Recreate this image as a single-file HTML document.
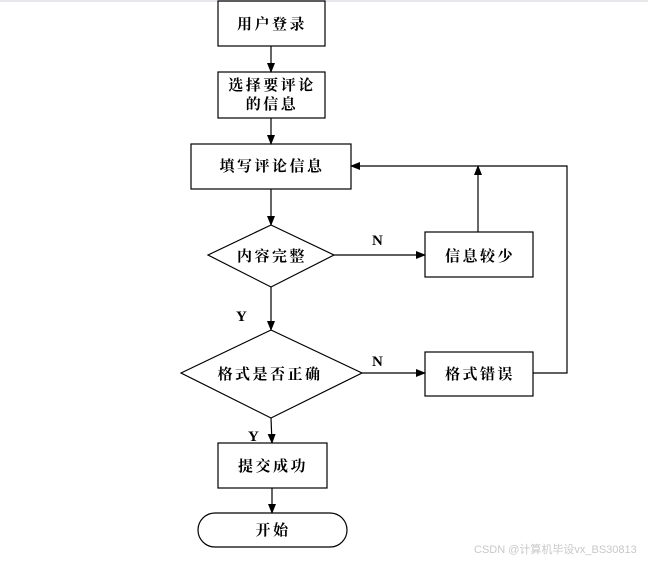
<!DOCTYPE html>
<html><head><meta charset="utf-8"><style>
body{margin:0;background:#fff;width:648px;height:560px;overflow:hidden}
svg text{font-family:"Liberation Serif","Noto Serif CJK SC",serif;font-weight:bold;font-size:15px;fill:#000}
svg text.c{letter-spacing:2.5px}
</style></head><body>
<svg width="648" height="560" viewBox="0 0 648 560" xmlns="http://www.w3.org/2000/svg">
<defs><marker id="a" markerWidth="10" markerHeight="8" refX="9" refY="4" orient="auto" markerUnits="userSpaceOnUse"><path d="M0,0 L10,4 L0,8 z" fill="#000"/></marker></defs>
<rect x="0" y="0" width="648" height="2" fill="#e6e8ec"/>
<g fill="none" stroke="#000" stroke-width="1.2">
<rect x="218" y="1" width="107" height="45"/>
<rect x="218" y="72" width="107" height="46"/>
<rect x="191" y="144" width="160" height="45"/>
<polygon points="208,255 271,225 334,255 271,287"/>
<rect x="425" y="232" width="108" height="45"/>
<polygon points="181,373 271,330 362,373 271,418"/>
<rect x="425" y="352" width="108" height="44"/>
<rect x="218" y="443" width="109" height="45"/>
<rect x="198" y="513" width="149" height="34" rx="17"/>
<line x1="271" y1="46" x2="271" y2="72" marker-end="url(#a)"/>
<line x1="271" y1="118" x2="271" y2="144" marker-end="url(#a)"/>
<line x1="271" y1="189" x2="271" y2="225" marker-end="url(#a)"/>
<line x1="334" y1="255" x2="425" y2="255" marker-end="url(#a)"/>
<line x1="478" y1="232" x2="478" y2="166" marker-end="url(#a)"/>
<polyline points="533,373 567,373 567,166 351,166" marker-end="url(#a)"/>
<line x1="271" y1="287" x2="271" y2="330" marker-end="url(#a)"/>
<line x1="362" y1="373" x2="425" y2="373" marker-end="url(#a)"/>
<line x1="271" y1="418" x2="272" y2="443" marker-end="url(#a)"/>
<line x1="272" y1="488" x2="272" y2="513" marker-end="url(#a)"/>
</g>
<text class="c" x="272" y="29" text-anchor="middle">用户登录</text>
<text class="c" x="272" y="90" text-anchor="middle">选择要评论</text>
<text class="c" x="272" y="109" text-anchor="middle">的信息</text>
<text class="c" x="272" y="171" text-anchor="middle">填写评论信息</text>
<text class="c" x="272" y="261" text-anchor="middle">内容完整</text>
<text class="c" x="480" y="261" text-anchor="middle">信息较少</text>
<text class="c" x="270" y="379" text-anchor="middle">格式是否正确</text>
<text class="c" x="480" y="379" text-anchor="middle">格式错误</text>
<text class="c" x="273" y="471" text-anchor="middle">提交成功</text>
<text class="c" x="273" y="535" text-anchor="middle">开始</text>
<text x="372" y="245">N</text>
<text x="372" y="366">N</text>
<text x="236" y="321">Y</text>
<text x="248" y="441">Y</text>
<text x="474" y="553" style="font-family:'Liberation Sans','Noto Sans CJK SC',sans-serif;font-weight:normal;font-size:11px;fill:#c8c8c8">CSDN @计算机毕设vx_BS30813</text>
</svg>
</body></html>
